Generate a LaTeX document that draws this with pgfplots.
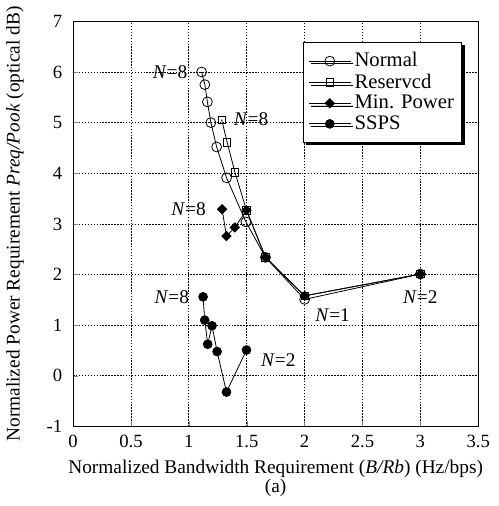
\documentclass[border=0pt]{standalone}
\usepackage{pgfplots}
\pgfplotsset{compat=1.18}
\usetikzlibrary{shadows}
\usepackage{fontspec}
\setmainfont{Liberation Serif}

\begin{document}
\fontsize{14.5}{16}\selectfont
\begin{tikzpicture}
\begin{axis}[name=ax,width=303.75pt,height=303.75pt,scale only axis,
  xmin=0,xmax=3.5, ymin=-1,ymax=7,
  xtick={0,0.5,...,3.5}, ytick={-1,0,...,7},
  yticklabels={-1,0,1,2,3,4,5,6,7},
  /pgf/number format/assume math mode=true,
  tick align=inside, xtick pos=left, ytick pos=left,
  major tick length=4pt,
  ticklabel style={font=\fontsize{14}{16}\selectfont},
  xticklabel style={anchor=center,inner sep=0pt,yshift=-11pt},
  yticklabel style={anchor=east,inner sep=0pt,xshift=-8pt},
  grid=major, grid style={black,dash pattern=on 1.1pt off 1.1pt,line width=0.6pt},
  axis line style={line width=0.75pt},
  xlabel={Normalized Bandwidth Requirement (\textit{B/Rb}) (Hz/bps)},
  xlabel style={at={(axis description cs:0.5,0)},anchor=center,yshift=-31.5pt},
  ylabel={Normalized Power Requirement \textit{Preq/Pook} (optical dB)},
  ylabel style={at={(axis description cs:0,0.5)},anchor=center,yshift=43.5pt},
  legend cell align=left,
  legend style={at={(rel axis cs:0.568,0.949)},anchor=north west,
    font=\fontsize{15.5}{17}\selectfont,
    draw=black,line width=0.75pt,fill=white,inner xsep=3.5pt,inner ysep=6pt,row sep=0pt,
    drop shadow={shadow xshift=2pt,shadow yshift=-2pt,opacity=1,fill=black},
    nodes={inner ysep=1.5pt,inner xsep=2.5pt}},
  legend image code/.code={%
    \draw[mark repeat=2,mark phase=2,#1]
      plot coordinates {(0pt,0pt) (15.75pt,0pt) (31.5pt,0pt)};},
  every axis plot/.append style={black,line width=0.6pt}]
% Normal
\addplot[mark=o,mark size=3.7pt,mark options={fill=white}] coordinates
 {(1.11,6.00) (1.138,5.75) (1.16,5.41) (1.19,5.00) (1.24,4.52) (1.326,3.91)
  (1.493,3.04) (1.662,2.34) (2.0,1.51) (3.0,2.01)};
\addlegendentry{Normal}
% Reserved
\addplot[mark=square,mark size=2.75pt] coordinates
 {(1.283,5.06) (1.331,4.61) (1.398,4.02) (1.498,3.27) (1.662,2.34)
  (2.0,1.58) (3.0,2.01)};
\addlegendentry{Reservcd}
% Min. Power
\addplot[mark=square*,mark size=2.45pt,mark options={rotate=45}] coordinates
 {(1.287,3.29) (1.325,2.76) (1.397,2.93) (1.498,3.27) (1.662,2.34)
  (2.0,1.58) (3.0,2.01)};
\addlegendentry{Min. Power}
% SSPS
\addplot[mark=*,mark size=3.3pt] coordinates
 {(1.123,1.56) (1.137,1.10) (1.163,0.625) (1.20,0.99) (1.244,0.48)
  (1.325,-0.32) (1.498,0.51)};
\addlegendentry{SSPS}
\node[anchor=east,inner sep=1pt] at (axis cs:1.0,6.0) {\textit{N}=8};
\node[anchor=west,inner sep=1pt] at (axis cs:1.375,5.06) {\textit{N}=8};
\node[anchor=east,inner sep=1pt] at (axis cs:1.16,3.29) {\textit{N}=8};
\node[anchor=east,inner sep=1pt] at (axis cs:1.015,1.56) {\textit{N}=8};
\node[anchor=west,inner sep=1pt] at (axis cs:1.61,0.32) {\textit{N}=2};
\node[anchor=west,inner sep=1pt] at (axis cs:2.08,1.20) {\textit{N}=1};
\node[inner sep=1pt] at (axis cs:3.0,1.56) {\textit{N}=2};
\end{axis}
\node[anchor=center] at ([yshift=-46pt]ax.south) {(a)};
\pgfresetboundingbox
\path ([xshift=-54.8pt,yshift=-59.6pt]ax.south west)
  rectangle ([xshift=15pt,yshift=16pt]ax.north east);
\end{tikzpicture}
\end{document}
